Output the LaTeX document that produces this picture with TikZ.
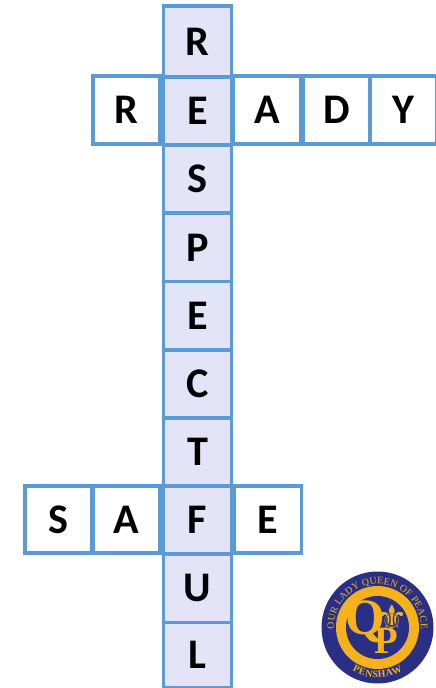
\documentclass[tikz,border=0pt]{standalone}
\usepackage{fontspec}
\setmainfont{Carlito}
\newfontfamily\crestfont{Liberation Serif}
\newfontfamily\symbfont{DejaVu Sans}
\usetikzlibrary{positioning, decorations.text}
\definecolor{cellblue}{HTML}{5B9BD5}
\definecolor{celltint}{HTML}{E4E4F9}
\definecolor{crestnavy}{HTML}{2A2F86}
\definecolor{crestgold}{HTML}{F7B21B}

\begin{document}
\begin{tikzpicture}[node distance=1.364cm,
  across/.style={rectangle, draw=cellblue, line width=0.075cm, fill=white,
    minimum width=1.34cm, minimum height=1.35cm, inner sep=0pt, outer sep=0pt,
    font=\fontsize{24}{24}\selectfont\bfseries},
  down/.style={across, fill=celltint, minimum width=1.36cm, minimum height=1.364cm},
  crestdisc/.style={circle, inner sep=0pt, outer sep=0pt},
  cresttext/.style={crestgold, inner sep=0pt, font=\crestfont}]
  \useasboundingbox (0,0) rectangle (8.72,-13.76);

  % across words first, the column sits on top
  \node[across] (ready2) at (2.53,-2.2) {R};
  \node[across] (ready3) at (5.34,-2.2) {A};
  \node[across, right of=ready3, node distance=1.39cm] (ready4) {D};
  \node[across, right of=ready4, node distance=1.34cm] (ready5) {Y};

  \node[across] (safe1) at (1.17,-10.39) {S};
  \node[across, right of=safe1, node distance=1.36cm] (safe2) {A};
  \node[across] (safe4) at (5.36,-10.39) {E};

  % the column
  \node[down, minimum height=1.42cm] (col1) at (3.95,-0.83) {R};
  \node[down] (col2) at (3.95,-2.22) {E};
  \node[down, below of=col2] (col3) {S};
  \node[down, below of=col3] (col4) {P};
  \node[down, below of=col4] (col5) {E};
  \node[down, below of=col5] (col6) {C};
  \node[down, below of=col6] (col7) {T};
  \node[down, below of=col7] (col8) {F};
  \node[down, below of=col8] (col9) {U};
  \node[down, below of=col9, minimum height=1.3cm, yshift=0.03cm] (col10) {L};

  % crest
  \node[crestdisc, fill=crestnavy, minimum size=2.24cm] (crest) at (7.55,-12.55) {};
  \node[crestdisc, fill=crestgold, minimum size=1.66cm] (crestring) at (crest.center) {};
  \node[crestdisc, fill=crestnavy, minimum size=1.26cm] (crestcore) at (crest.center) {};
  \node[cresttext, font=\crestfont\bfseries\fontsize{29}{29}\selectfont] (crestq) at ([shift={(-0.24,0.12)}]crest.center) {Q};
  \node[cresttext, font=\crestfont\bfseries\fontsize{22}{22}\selectfont] (crestp) at ([shift={(0.17,-0.27)}]crest.center) {P};
  \node[cresttext, font=\symbfont\fontsize{20}{20}\selectfont] (crestfleur) at ([shift={(0.3,0.2)}]crest.center) {^^^^269c};
  \path[decorate, decoration={text along path, text align={fit to path},
      text={|\crestfont\fontsize{5.6}{5.6}\selectfont\color{crestgold}|OUR LADY QUEEN OF PEACE}}]
    ([shift={(182:0.87)}]crest.center) arc[start angle=182, end angle=-2, radius=0.87];
  \path[decorate, decoration={text along path, text align={fit to path},
      text={|\crestfont\bfseries\fontsize{5.6}{5.6}\selectfont\color{crestgold}|PENSHAW}}]
    ([shift={(240:1.0)}]crest.center) arc[start angle=240, end angle=300, radius=1.0];
\end{tikzpicture}
\end{document}
